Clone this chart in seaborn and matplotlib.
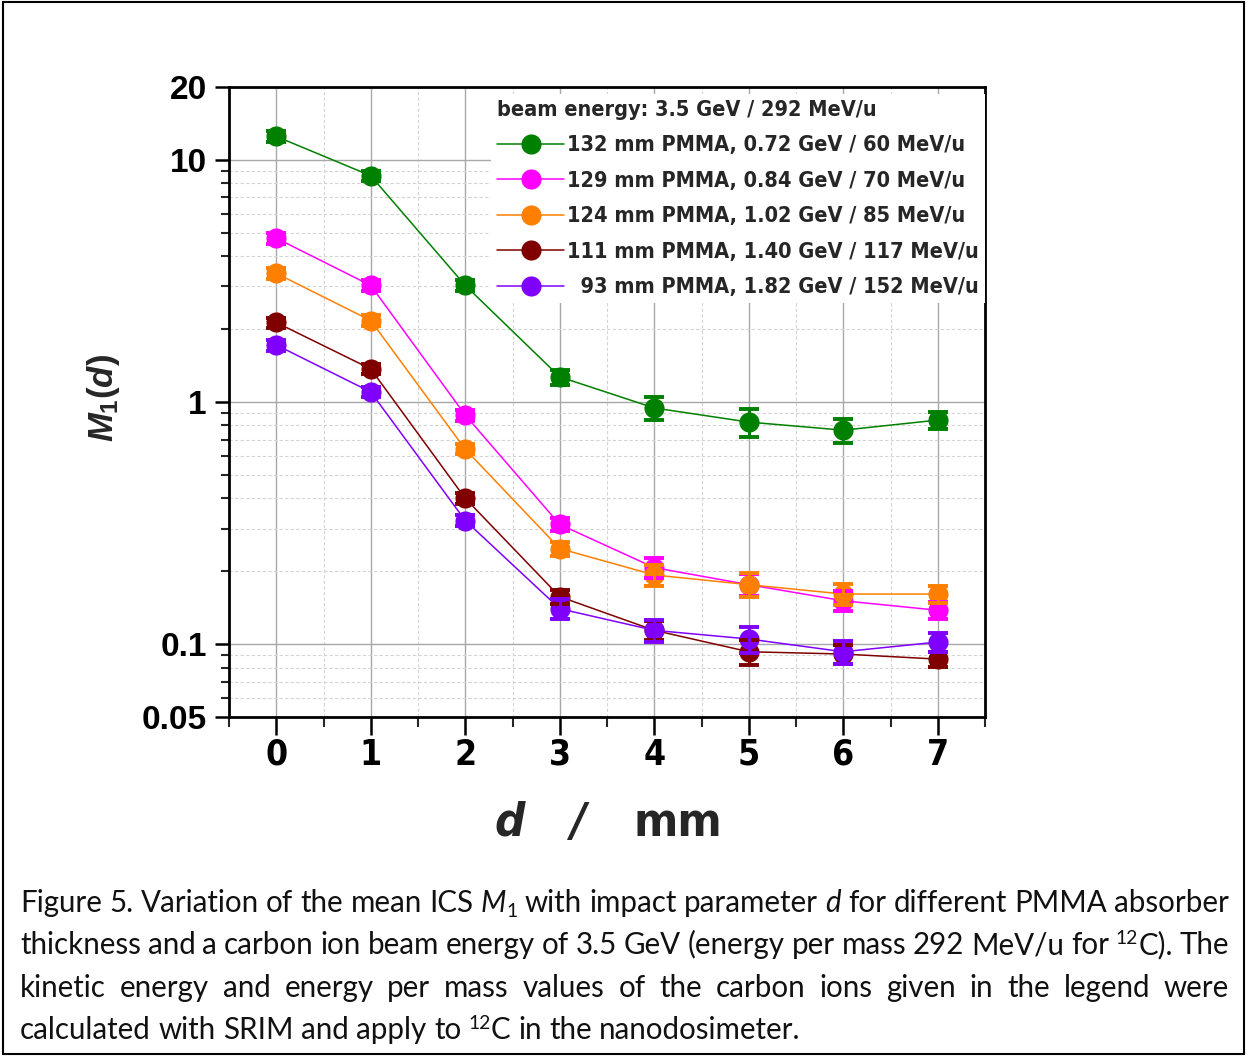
import os
import re
import numpy as np
import pandas as pd
import matplotlib
matplotlib.use("Agg")
import matplotlib.pyplot as plt
import seaborn as sns
from matplotlib import font_manager
from matplotlib.font_manager import FontProperties
from matplotlib.lines import Line2D
from matplotlib.patches import Rectangle
from matplotlib.ticker import FixedLocator, FixedFormatter, MultipleLocator, NullFormatter

# ---------------- data ----------------
d_mm = [0, 1, 2, 3, 4, 5, 6, 7]

m1_132 = [12.5, 8.6, 3.03, 1.27, 0.945, 0.826, 0.765, 0.842]
err_132 = [0.6, 0.4, 0.15, 0.09, 0.10, 0.11, 0.085, 0.07]
m1_129 = [4.75, 3.03, 0.883, 0.312, 0.207, 0.176, 0.151, 0.138]
err_129 = [0.25, 0.15, 0.045, 0.02, 0.02, 0.018, 0.014, 0.011]
m1_124 = [3.40, 2.17, 0.638, 0.248, 0.193, 0.176, 0.161, 0.161]
err_124 = [0.17, 0.11, 0.03, 0.017, 0.02, 0.02, 0.016, 0.013]
m1_111 = [2.13, 1.37, 0.40, 0.157, 0.114, 0.093, 0.091, 0.0867]
err_111 = [0.10, 0.07, 0.02, 0.01, 0.01, 0.011, 0.008, 0.006]
m1_93 = [1.72, 1.10, 0.324, 0.140, 0.114, 0.105, 0.093, 0.102]
err_93 = [0.09, 0.055, 0.016, 0.013, 0.012, 0.013, 0.010, 0.009]

series_labels = [
    "132 mm PMMA, 0.72 GeV / 60 MeV/u",
    "129 mm PMMA, 0.84 GeV / 70 MeV/u",
    "124 mm PMMA, 1.02 GeV / 85 MeV/u",
    "111 mm PMMA, 1.40 GeV / 117 MeV/u",
    "  93 mm PMMA, 1.82 GeV / 152 MeV/u",
]
series_colors = ["#008000", "#FF00FF", "#FF8000", "#800000", "#8000FF"]
legend_title = "beam energy: 3.5 GeV / 292 MeV/u"

y_tick_values = [0.05, 0.1, 1, 10, 20]
y_tick_labels = ["0.05", "0.1", "1", "10", "20"]
x_tick_values = [0, 1, 2, 3, 4, 5, 6, 7]

caption_lines = [
    "Figure 5. Variation of the mean ICS *M*_{1} with impact parameter *d* for different PMMA absorber",
    "thickness and a carbon ion beam energy of 3.5 GeV (energy per mass 292 MeV/u for ^{12}C). The",
    "kinetic energy and energy per mass values of the carbon ions given in the legend were",
    "calculated with SRIM and apply to ^{12}C in the nanodosimeter.",
]

values = [m1_132, m1_129, m1_124, m1_111, m1_93]
errors = [err_132, err_129, err_124, err_111, err_93]

rows = []
for lab, v, e in zip(series_labels, values, errors):
    for x, yv, ev in zip(d_mm, v, e):
        rows.append({"d": x, "M1": yv, "err": ev, "series": lab})
df = pd.DataFrame(rows)

# ---------------- fonts ----------------
sns.set_theme(style="white")
plt.rcParams["font.family"] = ["Liberation Sans", "DejaVu Sans"]
plt.rcParams["mathtext.fontset"] = "custom"
plt.rcParams["mathtext.rm"] = "Liberation Sans:bold"
plt.rcParams["mathtext.bf"] = "Liberation Sans:bold"
plt.rcParams["mathtext.it"] = "Liberation Sans:bold:italic"

all_files = set(f.fname for f in font_manager.fontManager.ttflist)
try:
    all_files |= set(font_manager.findSystemFonts())
except Exception:
    pass
base_of = {os.path.basename(f).lower(): f for f in all_files}


def find_file(cands):
    for c in cands:
        if c.lower() in base_of:
            return base_of[c.lower()]
    return None


narrow_bold = find_file(["LiberationSansNarrow-Bold.ttf", "DejaVuSansCondensed-Bold.ttf",
                         "RobotoCondensed-Bold.ttf"])
narrow_bi = find_file(["LiberationSansNarrow-BoldItalic.ttf",
                       "DejaVuSansCondensed-BoldOblique.ttf",
                       "RobotoCondensed-BoldItalic.ttf"])
is_narrow = narrow_bold is not None


def nb(size):
    if narrow_bold:
        return FontProperties(fname=narrow_bold, size=size)
    return FontProperties(family="Liberation Sans", weight="bold", size=size)


def nbi(size):
    if narrow_bi:
        return FontProperties(fname=narrow_bi, size=size)
    return FontProperties(family="Liberation Sans", weight="bold", style="italic", size=size)


W, H = 1247, 1057
fig = plt.figure(figsize=(W / 100, H / 100), dpi=100)
fig.patch.set_facecolor("white")
renderer = fig.canvas.get_renderer()


def text_w(s, fp):
    t = fig.text(0, 0, s, fontproperties=fp)
    w = t.get_window_extent(renderer).width
    t.remove()
    return w


ax_l, ax_r, ax_t, ax_b = 229, 985, 87, 717
ax = fig.add_axes([ax_l / W, 1 - ax_b / H, (ax_r - ax_l) / W, (ax_b - ax_t) / H])
ax.set_facecolor("white")

# lines + markers with seaborn
sns.lineplot(data=df, x="d", y="M1", hue="series", hue_order=series_labels,
             palette=series_colors, marker="o", markersize=14.5, markeredgewidth=0,
             linewidth=1.1, errorbar=None, sort=False, legend=False, ax=ax, zorder=3)
for i, (lab, col) in enumerate(zip(series_labels, series_colors)):
    sub = df[df["series"] == lab]
    ax.errorbar(sub["d"], sub["M1"], yerr=sub["err"], fmt="none", ecolor=col,
                elinewidth=2.2, capsize=7.5, capthick=2.8, zorder=3 + 0.1 * i)

ax.set_yscale("log")
ax.set_ylim(0.05, 20)
ax.set_xlim(-0.5, 7.5)

ax.yaxis.set_major_locator(FixedLocator(y_tick_values))
ax.yaxis.set_major_formatter(FixedFormatter(y_tick_labels))
minor_y = [m * 10.0 ** k for k in (-2, -1, 0) for m in range(2, 10)]
minor_y = [v for v in minor_y if 0.05 < v < 20]
ax.yaxis.set_minor_locator(FixedLocator(minor_y))
ax.yaxis.set_minor_formatter(NullFormatter())

ax.xaxis.set_major_locator(FixedLocator(x_tick_values))
ax.xaxis.set_minor_locator(MultipleLocator(0.5))
ax.set_xticklabels([str(v) for v in x_tick_values])

ax.grid(which="major", color="#a8a8a8", linewidth=1.0, linestyle="-", zorder=0)
ax.grid(which="minor", color="#d4d4d4", linewidth=0.8, linestyle=(0, (3, 2)), zorder=0)
ax.set_axisbelow(True)

for s in ax.spines.values():
    s.set_visible(True)
    s.set_color("black")
    s.set_linewidth(2.0)

ax.tick_params(axis="x", which="major", direction="out", length=13, width=1.8,
               bottom=True, top=False, pad=2, colors="black")
ax.tick_params(axis="x", which="minor", direction="out", length=7, width=1.5,
               bottom=True, top=False)
ax.tick_params(axis="y", which="major", direction="out", length=10, width=1.8,
               left=True, right=False, pad=6, colors="black")
ax.tick_params(axis="y", which="minor", direction="out", length=6, width=1.5,
               left=True, right=False)
xt_fp = nb(25.5)
for t in ax.get_xticklabels():
    t.set_fontproperties(xt_fp)
for t in ax.get_yticklabels():
    t.set_fontfamily("Liberation Sans"); t.set_fontweight("bold"); t.set_fontsize(24)
ax.set_xlabel(""); ax.set_ylabel("")

# legend: size so that the first label spans ~400 px
w23 = text_w(series_labels[0], nb(23))
leg_size = max(15.0, min(23.0, 23.0 * 400.0 / w23))
leg_fp = nb(leg_size)
row_px = 35.0
em_px = leg_size * 100 / 72
handles = [Line2D([0], [0], color=c, lw=1.1, marker="o", markersize=14.5,
                  markeredgewidth=0) for c in series_colors]
leg = ax.legend(handles, series_labels, title=legend_title, loc="upper right",
                bbox_to_anchor=(1, 1 - 7.0 / (ax_b - ax_t)), borderaxespad=0,
                frameon=True, fancybox=False,
                framealpha=1, facecolor="white", edgecolor="none", prop=leg_fp,
                title_fontproperties=leg_fp, alignment="left",
                handlelength=67.0 / em_px, handletextpad=3.0 / em_px,
                labelspacing=max(0.0, (row_px - 1.15 * em_px) / em_px) + 5.3 / em_px,
                borderpad=6.0 / em_px)
leg.set_zorder(10)

# axis labels
fig.text(103 / W, 1 - 398 / H, r"$M_1(d)$", rotation=90, ha="center", va="center",
         fontsize=25)
xl_size = 34
fig.text(510 / W, 1 - 836 / H, "d", fontproperties=nbi(xl_size), ha="center", va="baseline")
fig.text(578 / W, 1 - 836 / H, "/", fontproperties=nbi(xl_size), ha="center", va="baseline")
fig.text(678 / W, 1 - 836 / H, "mm", fontproperties=nb(xl_size), ha="center", va="baseline")

# ---------------- caption (justified) ----------------
cap_family = "Lato"


def seg_fp(kind, size):
    if kind == "i":
        return FontProperties(family=cap_family, style="italic", size=size)
    if kind in ("sub", "sup"):
        return FontProperties(family=cap_family, size=size * 0.65)
    return FontProperties(family=cap_family, size=size)


def parse_word(word):
    segs = []
    for m in re.finditer(r"\*([^*]+)\*|_\{([^}]+)\}|\^\{([^}]+)\}|([^*_^]+)", word):
        if m.group(1):
            segs.append((m.group(1), "i"))
        elif m.group(2):
            segs.append((m.group(2), "sub"))
        elif m.group(3):
            segs.append((m.group(3), "sup"))
        else:
            segs.append((m.group(4), "n"))
    return segs


def word_w(segs, size):
    return sum(text_w(s, seg_fp(k, size)) for s, k in segs)


def space_w(size):
    return text_w("a a", seg_fp("n", size)) - text_w("aa", seg_fp("n", size))


def line_natural(line, size):
    words = [parse_word(w) for w in line.split(" ")]
    return sum(word_w(w, size) for w in words) + space_w(size) * (len(words) - 1)


size0 = 20
cap_size = size0 * 783.0 / line_natural(caption_lines[3], size0)

x_left, x_right = 20, 1229
baselines = [912, 954, 997, 1039]
em = cap_size * 100 / 72
for li, (line, yb) in enumerate(zip(caption_lines, baselines)):
    words = [parse_word(w) for w in line.split(" ")]
    widths = [word_w(w, cap_size) for w in words]
    if li < len(caption_lines) - 1:
        gap = (x_right - x_left - sum(widths)) / (len(words) - 1)
    else:
        gap = space_w(cap_size)
    x = x_left
    for w, ww in zip(words, widths):
        xx = x
        for s, k in w:
            fp = seg_fp(k, cap_size)
            dy = 0.18 * em if k == "sub" else (-0.33 * em if k == "sup" else 0)
            fig.text(xx / W, 1 - (yb + dy) / H, s, fontproperties=fp, ha="left",
                     va="baseline", color="#111111")
            xx += text_w(s, fp)
        x += ww + gap

# figure border
fig.patches.append(Rectangle((3 / W, 1 - 1054 / H), 1241 / W, 1052 / H,
                             transform=fig.transFigure, fill=False,
                             edgecolor="black", linewidth=1.5))

fig.savefig("out.png", dpi=100, facecolor="white")
